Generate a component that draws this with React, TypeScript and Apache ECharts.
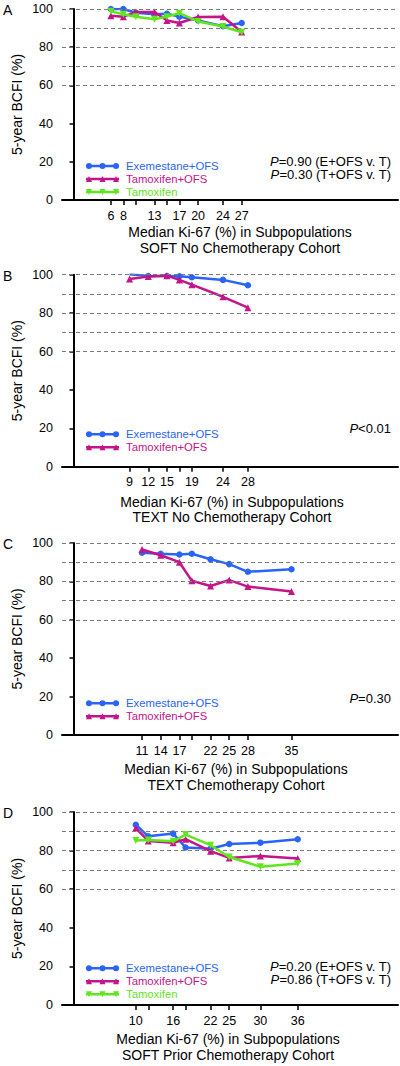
import React, { useEffect, useRef } from "react";
import * as echarts from "echarts";

// ---------- data ----------
const SERIES_NAMES = ["Exemestane+OFS", "Tamoxifen+OFS", "Tamoxifen"];

// Panel A: SOFT No Chemotherapy Cohort
const kiA = [6, 8, 10, 13, 15, 17, 20, 24, 27];
const kiLabelsA = [6, 8, 13, 17, 20, 24, 27];
const exeA = [100, 100, 98, 97.2, 97.5, 96, 94, 91, 92.7];
const tofA = [96.5, 96, 98.4, 98.4, 94, 92.7, 95.8, 95.9, 88];
const tamA = [98.8, 97.2, 95.9, 94.6, 96, 97.8, 93.5, 90.8, 87.8];
const pA = ["=0.90 (E+OFS v. T)", "=0.30 (T+OFS v. T)"];

// Panel B: TEXT No Chemotherapy Cohort
const kiB = [9, 12, 15, 17, 19, 24, 28];
const kiLabelsB = [9, 12, 15, 19, 24, 28];
const exeB = [100.2, 99.3, 99.3, 99.2, 98.7, 97.3, 94.5];
const tofB = [97.8, 99, 99.5, 97.3, 94.8, 88.5, 82.8];
const pB = ["<0.01"];

// Panel C: TEXT Chemotherapy Cohort
const kiC = [11, 14, 17, 19, 22, 25, 28, 35];
const kiLabelsC = [11, 14, 17, 22, 25, 28, 35];
const exeC = [94.9, 94.4, 94, 94.4, 91.5, 89, 85, 86.3];
const tofC = [96.6, 93.6, 90, 80.3, 77.6, 80.7, 77.3, 74.7];
const pC = ["=0.30"];

// Panel D: SOFT Prior Chemotherapy Cohort
const kiD = [10, 12, 16, 18, 22, 25, 30, 36];
const kiLabelsD = [10, 16, 22, 25, 30, 36];
const exeD = [93.4, 87.4, 88.8, 81.6, 81, 83.4, 84.1, 85.9];
const tofD = [91.7, 85, 84.1, 85.9, 79.7, 76.2, 77.2, 75.9];
const tamD = [85.2, 85.5, 84.8, 88.3, 82.8, 76.7, 71.6, 73.3];
const pD = ["=0.20 (E+OFS v. T)", "=0.86 (T+OFS v. T)"];

const refLines = [60, 70, 80, 90, 100];
const letters = ["A", "B", "C", "D"];
const xTitle = "Median Ki-67 (%) in Subpopulations";
const cohorts = [
  "SOFT No Chemotherapy Cohort",
  "TEXT No Chemotherapy Cohort",
  "TEXT Chemotherapy Cohort",
  "SOFT Prior Chemotherapy Cohort",
];
const yName = "5-year BCFI (%)";

const panelsData = [
  { ki: kiA, labels: kiLabelsA, vals: [exeA, tofA, tamA], p: pA },
  { ki: kiB, labels: kiLabelsB, vals: [exeB, tofB], p: pB },
  { ki: kiC, labels: kiLabelsC, vals: [exeC, tofC], p: pC },
  { ki: kiD, labels: kiLabelsD, vals: [exeD, tofD, tamD], p: pD },
];

// ---------- styles / layout ----------
const FONT = '"Liberation Sans", Arial, Helvetica, sans-serif';
const COLORS = ["#2a64f6", "#c4148a", "#5fe61c"];
const SYMBOLS = ["circle", "triangle", "triangle"];
const ROTATE = [0, 0, 180];
const ICONS = [
  "path://M0 1.8H33V4.2H0Z M0 3a3 3 0 1 1 6 0a3 3 0 1 1 -6 0Z M13.5 3a3 3 0 1 1 6 0a3 3 0 1 1 -6 0Z M27 3a3 3 0 1 1 6 0a3 3 0 1 1 -6 0Z",
  "path://M0 1.8H33V4.2H0Z M0 6L3 0L6 6Z M13.5 6L16.5 0L19.5 6Z M27 6L30 0L33 6Z",
  "path://M0 1.8H33V4.2H0Z M0 0L6 0L3 6Z M13.5 0L19.5 0L16.5 6Z M27 0L33 0L30 6Z",
];
const layout = [
  { top: 9, h: 191, legendY: 152, pY: 152, titleX: 240, t1: 32, t2: 48 },
  { top: 274.7, h: 192, legendY: 154.6, pY: 153.8, titleX: 232, t1: 35, t2: 50 },
  { top: 543, h: 192, legendY: 155.3, pY: 155.3, titleX: 236, t1: 34, t2: 50 },
  { top: 812, h: 193, legendY: 151.3, pY: 154, titleX: 228, t1: 34, t2: 50 },
];
const GRID_LEFT = 62;
const GRID_W = 336;
const X_MIN = -1.85;
const X_MAX = 52.1;

function buildOption() {
  const grid: any[] = [];
  const xAxis: any[] = [];
  const yAxis: any[] = [];
  const series: any[] = [];
  const legend: any[] = [];
  const graphic: any[] = [];

  panelsData.forEach((pd, i) => {
    const L = layout[i];
    grid.push({ left: GRID_LEFT, width: GRID_W, top: L.top, height: L.h });
    xAxis.push({
      gridIndex: i,
      type: "value",
      min: X_MIN,
      max: X_MAX,
      axisLine: { show: true, onZero: false, lineStyle: { color: "#000", width: 2 } },
      axisTick: { show: true, customValues: pd.ki, length: 5, lineStyle: { color: "#000", width: 1.5 } },
      axisLabel: { customValues: pd.labels, margin: 9, fontSize: 12.5, color: "#000", fontFamily: FONT },
      splitLine: { show: false },
    });
    yAxis.push({
      gridIndex: i,
      type: "value",
      min: 0,
      max: 100,
      interval: 20,
      axisLine: { show: true, lineStyle: { color: "#000", width: 2 } },
      axisTick: { show: true, length: 4, lineStyle: { color: "#000", width: 1.5 } },
      axisLabel: { margin: 9, fontSize: 12.5, color: "#000", fontFamily: FONT },
      splitLine: { show: false },
    });
    series.push({
      type: "line",
      name: "ref" + i,
      xAxisIndex: i,
      yAxisIndex: i,
      data: [],
      silent: true,
      z: 1,
      markLine: {
        silent: true,
        symbol: ["none", "none"],
        label: { show: false },
        lineStyle: { type: [4, 3], color: "#7a7a7a", width: 1 },
        emphasis: { disabled: true },
        data: refLines.map((v) => ({ yAxis: v })),
      },
    });
    const names: any[] = [];
    pd.vals.forEach((vals, k) => {
      series.push({
        type: "line",
        name: SERIES_NAMES[k],
        xAxisIndex: i,
        yAxisIndex: i,
        data: pd.ki.map((x, j) => [x, vals[j]]),
        symbol: SYMBOLS[k],
        symbolSize: k === 0 ? 6.5 : 7,
        symbolRotate: ROTATE[k],
        lineStyle: { width: 2.5, color: COLORS[k] },
        itemStyle: { color: COLORS[k], borderWidth: 0 },
        emphasis: { disabled: true },
        z: 3 + k,
      });
      names.push({ name: SERIES_NAMES[k], icon: ICONS[k], textStyle: { color: COLORS[k] } });
    });
    legend.push({
      orient: "vertical",
      left: 81,
      top: L.top + L.legendY - 6.5,
      itemWidth: 33,
      itemHeight: 6,
      itemGap: 0,
      selectedMode: false,
      itemStyle: { borderWidth: 0 },
      textStyle: { fontSize: 11.3, fontFamily: FONT, lineHeight: 13, padding: [0, 0, 0, 2] },
      data: names,
    });

    // panel letter
    graphic.push({
      type: "text",
      left: 3,
      top: L.top + 1 - 7,
      style: { text: letters[i], fontSize: 14, fontFamily: FONT, fill: "#000" },
    });
    // y axis name
    graphic.push({
      type: "text",
      x: 17,
      y: L.top + L.h / 2,
      rotation: Math.PI / 2,
      style: {
        text: yName,
        fontSize: 14,
        fontFamily: FONT,
        fill: "#000",
        align: "center",
        verticalAlign: "middle",
      },
    });
    const axisY = L.top + L.h;
    graphic.push({
      type: "text",
      x: L.titleX,
      y: axisY + L.t1,
      style: { text: xTitle, fontSize: 14, fontFamily: FONT, fill: "#000", align: "center", verticalAlign: "middle" },
    });
    graphic.push({
      type: "text",
      x: L.titleX,
      y: axisY + L.t2,
      style: { text: cohorts[i], fontSize: 14, fontFamily: FONT, fill: "#000", align: "center", verticalAlign: "middle" },
    });
    pd.p.forEach((t, k) => {
      graphic.push({
        type: "text",
        x: 391,
        y: L.top + L.pY + k * 13.5,
        style: {
          text: "{i|P}" + t,
          fontSize: 13,
          fontFamily: FONT,
          fill: "#000",
          align: "right",
          verticalAlign: "middle",
          rich: { i: { fontStyle: "italic", fontSize: 13, fontFamily: FONT, fill: "#000" } },
        },
      });
    });
  });

  return {
    animation: false,
    backgroundColor: "#fff",
    textStyle: { fontFamily: FONT },
    grid,
    xAxis,
    yAxis,
    series,
    legend,
    graphic,
  };
}

export default function App() {
  const ref = useRef<HTMLDivElement>(null);
  useEffect(() => {
    if (!ref.current) return;
    const chart = echarts.init(ref.current, undefined, { renderer: "svg" });
    chart.setOption(buildOption() as any);
    return () => chart.dispose();
  }, []);
  return (
    <div
      ref={ref}
      style={{ position: "absolute", left: 0, top: 0, width: 400, height: 1066, background: "#fff" }}
    />
  );
}
